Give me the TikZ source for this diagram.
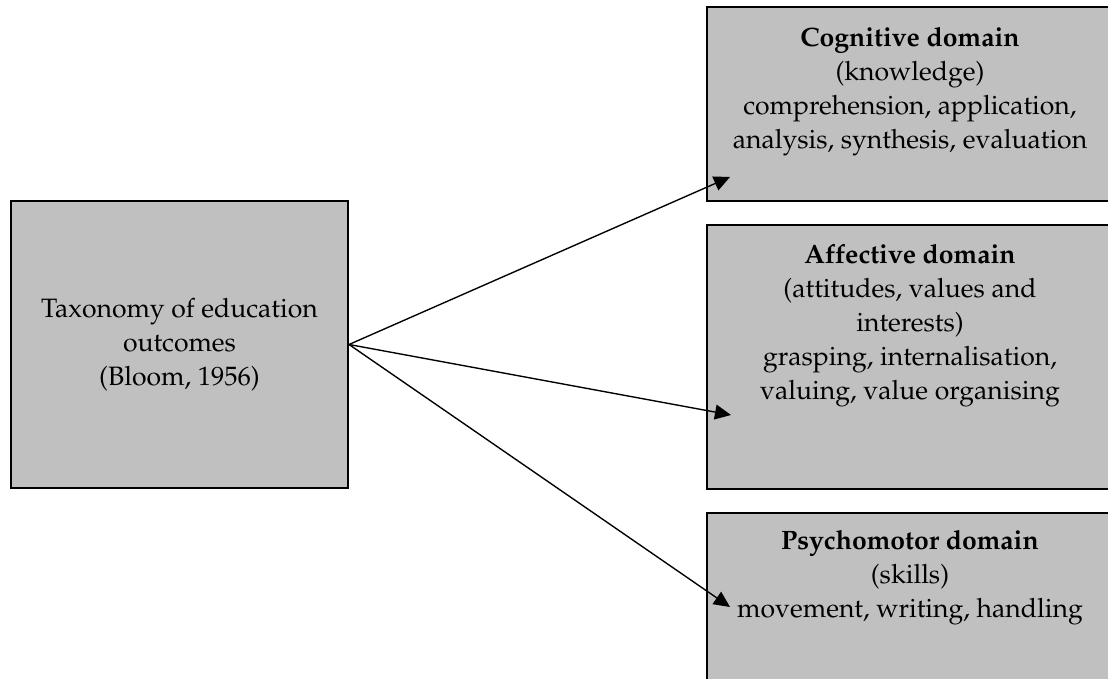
\documentclass[tikz,border=0pt]{standalone}
\usepackage[T1]{fontenc}
\usepackage{mathpazo}
\usetikzlibrary{arrows.meta}
\definecolor{boxgray}{RGB}{192,192,192}
\tikzset{
	box/.style={draw, line width=0.9pt, fill=boxgray},
	boxtext/.style={align=center, inner sep=0pt, font=\fontsize{11.6}{14.8}\selectfont},
	arr/.style={line width=0.6pt, -{Triangle[length=7pt,width=6.5pt]}}
}
\begin{document}
\begin{tikzpicture}[x=0.4365pt,y=-0.4365pt]
	\clip (0,0) rectangle (1108,679);
	\node[box, boxtext, minimum width=147.1pt, minimum height=125.3pt] (T) at (179.5,344.5) {Taxonomy of education\\outcomes\\(Bloom, 1956)};
	\node[box, minimum width=176.8pt, minimum height=84.7pt] (C) at (909.5,104) {};
	\node[box, minimum width=176.8pt, minimum height=115.2pt] (A) at (909.5,357) {};
	\node[box, minimum width=176.8pt, minimum height=84.7pt] (P) at (909.5,610) {};
	\node[boxtext, anchor=north] (Ct) at (910,27) {\textbf{Cognitive domain}\\(knowledge)\\comprehension, application,\\analysis, synthesis, evaluation};
	\node[boxtext, anchor=north] (At) at (910,244) {\textbf{Affective domain}\\(attitudes, values and\\interests)\\grasping, internalisation,\\valuing, value organising};
	\node[boxtext, anchor=north] (Pt) at (910,530) {\textbf{Psychomotor domain}\\(skills)\\movement, writing, handling};
	\coordinate (C1) at (730,177);
	\coordinate (A1) at (731,415);
	\coordinate (P1) at (730,607);
	\draw[arr] (T.east) -- (C1);
	\draw[arr] (T.east) -- (A1);
	\draw[arr] (T.east) -- (P1);
\end{tikzpicture}
\end{document}
